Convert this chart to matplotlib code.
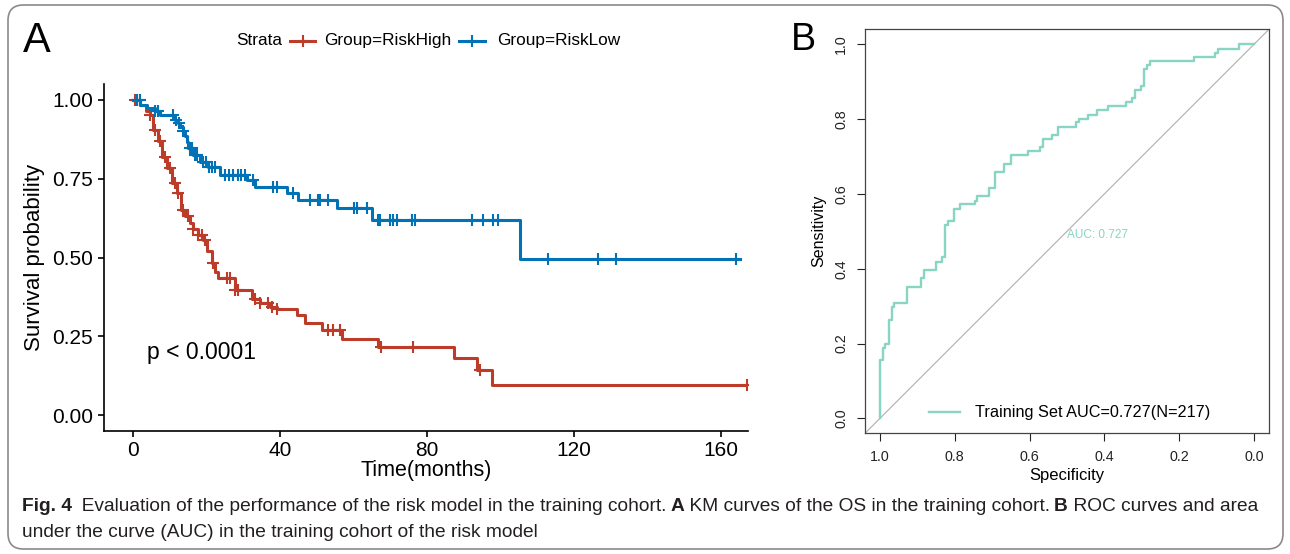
import numpy as np
import matplotlib
matplotlib.use("Agg")
from matplotlib import pyplot as plt
from matplotlib.lines import Line2D
from matplotlib.patches import FancyBboxPatch

plt.rcParams['font.family'] = ['Liberation Sans', 'DejaVu Sans']

# KM curve, RiskHigh group (step times in months, survival after each step)
high_t = [0, 2.0, 3.5, 4.6, 5.5, 6.9, 7.8, 9.2, 10.5, 11.9, 13.2, 14.2, 15.5, 16.4,
          17.7, 19.1, 20.2, 21.4, 22.3, 23.2, 27.8, 32.3, 34.6, 37.3, 39.1, 44.5,
          46.8, 51.3, 56.8, 66.7, 87.2, 93.5, 97.8, 167.0]
high_s = [1.0, 0.985, 0.965, 0.952, 0.905, 0.868, 0.82, 0.783, 0.735, 0.704, 0.651,
          0.63, 0.608, 0.59, 0.572, 0.556, 0.52, 0.481, 0.455, 0.434, 0.397, 0.37,
          0.357, 0.344, 0.336, 0.317, 0.291, 0.27, 0.243, 0.217, 0.18, 0.143, 0.095, 0.095]
high_cens = [0.5, 1.9, 4.6, 6.0, 7.3, 8.7, 10.0, 11.4, 12.3, 13.7, 15.0, 16.4, 17.7,
             18.7, 19.6, 21.8, 25.5, 26.4, 27.8, 28.7, 33.2, 34.6, 36.8, 37.7, 39.1,
             53.1, 54.5, 56.3, 67.5, 76.3, 94.4, 167.0]

# KM curve, RiskLow group
low_t = [0, 2.0, 3.7, 6.0, 7.3, 11.4, 12.3, 12.8, 13.5, 14.1, 14.6, 15.0, 16.4, 18.2,
         20.5, 23.6, 30.9, 33.2, 41.8, 45.0, 55.4, 64.9, 105.3, 165.0]
low_s = [1.0, 0.985, 0.973, 0.963, 0.952, 0.937, 0.925, 0.915, 0.9, 0.884, 0.865,
         0.847, 0.825, 0.804, 0.788, 0.762, 0.746, 0.723, 0.704, 0.683, 0.656, 0.619,
         0.495, 0.495]
low_cens = [1.0, 1.9, 6.0, 6.8, 11.0, 11.8, 12.5, 13.6, 15.5, 16.0, 16.8, 17.4, 19.0,
            19.8, 20.6, 21.5, 22.3, 25.0, 26.0, 27.2, 28.5, 29.5, 30.5, 32.7, 38.2,
            39.1, 43.6, 48.2, 50.4, 50.9, 53.1, 60.0, 60.9, 63.6, 66.7, 67.2, 69.9,
            70.8, 71.7, 75.8, 76.7, 92.2, 95.3, 98.0, 99.4, 113.0, 126.5, 131.4, 164.0]

# ROC curve corners: specificity where sensitivity rises, sensitivity after the rise
roc_spec = [1.0, 1.0, 0.993, 0.987, 0.975, 0.969, 0.962, 0.929, 0.889, 0.883, 0.849,
            0.835, 0.825, 0.818, 0.802, 0.787, 0.747, 0.741, 0.709, 0.692, 0.669,
            0.651, 0.603, 0.571, 0.564, 0.539, 0.524, 0.476, 0.469, 0.445, 0.421,
            0.39, 0.342, 0.326, 0.319, 0.302, 0.293, 0.287, 0.278, 0.16, 0.104,
            0.096, 0.04, 0.0]
roc_sens = [0.0, 0.155, 0.188, 0.2, 0.264, 0.297, 0.309, 0.352, 0.374, 0.396, 0.418,
            0.43, 0.516, 0.527, 0.56, 0.572, 0.582, 0.594, 0.615, 0.659, 0.681, 0.703,
            0.714, 0.725, 0.747, 0.757, 0.779, 0.792, 0.801, 0.812, 0.824, 0.834,
            0.846, 0.856, 0.878, 0.889, 0.933, 0.944, 0.954, 0.966, 0.977, 0.988,
            1.0, 1.0]

red = '#BC3C29'
blue = '#0072B5'
teal = '#88D5C3'
W, H = 1290.0, 554.0

fig = plt.figure(figsize=(12.9, 5.54), dpi=100)

# outer frame
frame = FancyBboxPatch((8 / W, 1 - 549 / H), 1275 / W, 544 / H,
                       boxstyle="round,pad=0,rounding_size=0.012",
                       mutation_aspect=W / H, transform=fig.transFigure,
                       facecolor='none', edgecolor='#8a8a8a', linewidth=1.2)
fig.add_artist(frame)

# ---------------- panel A : KM ----------------
ax1 = fig.add_axes([103.5 / W, 1 - 431 / H, (748 - 103.5) / W, (431 - 84) / H])


def censor_y(tt, ss, ct):
    idx = np.searchsorted(tt, ct, side='right') - 1
    return np.array(ss)[idx]


ax1.step(high_t, high_s, where='post', color=red, lw=2.2)
ax1.step(low_t, low_s, where='post', color=blue, lw=2.2)
ax1.plot(high_cens, censor_y(high_t, high_s, high_cens), ls='none', marker='+',
         ms=8.5, mew=1.5, color=red)
ax1.plot(low_cens, censor_y(low_t, low_s, low_cens), ls='none', marker='+',
         ms=8.5, mew=1.5, color=blue)

ax1.set_xlim(-8.0, 167.3)
ax1.set_ylim(-0.05, 1.05)
ax1.set_xticks([0, 40, 80, 120, 160])
ax1.set_yticks([0, 0.25, 0.5, 0.75, 1.0])
ax1.set_yticklabels(['0.00', '0.25', '0.50', '0.75', '1.00'])
for s in ['top', 'right']:
    ax1.spines[s].set_visible(False)
for s in ['left', 'bottom']:
    ax1.spines[s].set_linewidth(1.2)
ax1.tick_params(labelsize=15, length=4, width=1.2, pad=3.5, colors='black')
ax1.set_xlabel('Time(months)', fontsize=15.5)
ax1.set_ylabel('Survival probability', fontsize=16)
ax1.xaxis.set_label_coords(0.5, -0.083)
ax1.yaxis.set_label_coords(-0.09, 0.5)
ax1.text(3.8, 0.2, 'p < 0.0001', fontsize=16.5, va='center', ha='left')

# legend on top
ly = 1 - 40.7 / H
fig.text(236.5 / W, ly, 'Strata', fontsize=12.4, va='center', ha='left')
for x0, x1, c, lab, tx in [(290, 315, red, 'Group=RiskHigh', 324),
                           (459, 485, blue, 'Group=RiskLow', 497.5)]:
    fig.add_artist(Line2D([x0 / W, x1 / W], [ly, ly], color=c, lw=2.2,
                          transform=fig.transFigure))
    fig.add_artist(Line2D([(x0 + x1) / 2 / W], [ly], color=c, marker='+', ms=8.5,
                          mew=1.5, transform=fig.transFigure))
    fig.text(tx / W, ly, lab, fontsize=12.4, va='center', ha='left')

fig.text(23 / W, 1 - 41 / H, 'A', fontsize=30, va='center', ha='left')

# ---------------- panel B : ROC ----------------
ax2 = fig.add_axes([865 / W, 1 - 433.3 / H, (1269 - 865) / W, (433.3 - 29.3) / H])
ax2.axline((1, 0), (0, 1), color='#b5b5b5', lw=0.9)
ax2.step(roc_spec, roc_sens, where='post', color=teal, lw=1.7,
         label='Training Set AUC=0.727(N=217)')
ax2.text(0.5, 0.49, 'AUC: 0.727', color=teal, fontsize=8.5, ha='left', va='center')
ax2.set_xlim(1.04, -0.04)
ax2.set_ylim(-0.04, 1.04)
ticks = [1.0, 0.8, 0.6, 0.4, 0.2, 0.0]
ax2.set_xticks(ticks)
ax2.set_xticklabels(['%.1f' % t for t in ticks])
ax2.set_yticks(ticks)
ax2.set_yticklabels(['%.1f' % t for t in ticks], rotation=90, va='center')
for s in ax2.spines.values():
    s.set_linewidth(0.9)
    s.set_color('#444444')
ax2.tick_params(labelsize=10.3, length=6, width=0.8, pad=6, colors='#222222')
ax2.set_xlabel('Specificity', fontsize=12)
ax2.set_ylabel('Sensitivity', fontsize=11.5)
ax2.xaxis.set_label_coords(0.5, -0.085)
ax2.yaxis.set_label_coords(-0.095, 0.5)
ax2.legend(loc='center', bbox_to_anchor=(0.507, 0.051), frameon=False,
           fontsize=11.7, handlelength=1.9, handletextpad=0.9)

fig.text(791 / W, 1 - 40 / H, 'B', fontsize=27, va='center', ha='left')

# ---------------- caption ----------------
cap_font = ['Liberation Sans Narrow', 'Liberation Sans', 'DejaVu Sans']
renderer = fig.canvas.get_renderer()


def caption_line(x, y, runs, size):
    for txt, wt in runs:
        t = fig.text(x, y, txt, fontsize=size, fontweight=wt, family=cap_font,
                     va='baseline', ha='left', color='#231f20')
        bb = t.get_window_extent(renderer=renderer)
        x = bb.x1 / fig.bbox.width


caption_line(22 / W, 1 - 511 / H,
             [('Fig. 4', 'bold'),
              ('\u2002Evaluation of the performance of the risk model in the training cohort.\u2009', 'normal'),
              ('A', 'bold'),
              (' KM curves of the OS in the training cohort.\u2009', 'normal'),
              ('B', 'bold'),
              (' ROC curves and area', 'normal')], 13.8)
caption_line(22 / W, 1 - 537 / H,
             [('under the curve (AUC) in the training cohort of the risk model', 'normal')], 13.8)

fig.savefig('out.png', dpi=100)
